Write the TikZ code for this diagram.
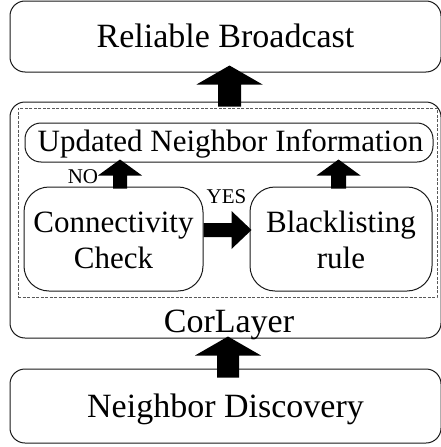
\documentclass[tikz,border=0pt]{standalone}
\usepackage{fontspec}
\setmainfont{Liberation Serif}
\usetikzlibrary{calc}
% block arrows as filled polygons: #1 tail, #2 tip, #3 shaft half width, #4 head half width, #5 head length
\newcommand\blkup[5]{\fill[black] let \p1=(#1), \p2=(#2) in
  (\x1-#3,\y1) -- (\x1+#3,\y1) -- (\x1+#3,\y2-#5) -- (\x1+#4,\y2-#5) -- (\x1,\y2)
  -- (\x1-#4,\y2-#5) -- (\x1-#3,\y2-#5) -- cycle;}
\newcommand\blkright[5]{\fill[black] let \p1=(#1), \p2=(#2) in
  (\x1,\y1+#3) -- (\x2-#5,\y1+#3) -- (\x2-#5,\y1+#4) -- (\x2,\y1)
  -- (\x2-#5,\y1-#4) -- (\x2-#5,\y1-#3) -- (\x1,\y1-#3) -- cycle;}
\begin{document}
\begin{tikzpicture}[x=1pt,y=-1pt,
  box/.style={draw=black!90, line width=1pt, inner sep=0pt, text depth=0pt},
  bigfont/.style={font=\fontsize{34}{40}\selectfont},
  midfont/.style={font=\fontsize{31}{36}\selectfont},
  smallfont/.style={font=\fontsize{21}{24}\selectfont},
]
\useasboundingbox (0,0) rectangle (440,447);

\node (rb) [box, bigfont, rounded corners=15pt, minimum width=431pt, minimum height=71pt, text height=21pt] at (225.5,36.5) {Reliable Broadcast};

\node (cor) [box, rounded corners=15pt, minimum width=431pt, minimum height=236pt] at (225.5,220) {};
\node (corlbl) [bigfont, anchor=base, inner sep=0pt] at (229,332) {CorLayer};

\node (frame) [draw=black!65, line width=0.9pt, dash pattern=on 3pt off 1.5pt, minimum width=419pt, minimum height=189pt, inner sep=0pt] at (227.5,202.5) {};

\node (uni) [box, midfont, rounded corners=16pt, minimum width=408pt, minimum height=39pt, text height=17pt] at (229,142.5) {\hspace*{3pt}Updated Neighbor Information};

\node (cc) [box, midfont, align=center, rounded corners=25pt, minimum width=179pt, minimum height=104pt, text height=58pt] at (113.5,239) {Connectivity\\Check};

\node (bl) [box, midfont, align=center, rounded corners=25pt, minimum width=182pt, minimum height=104pt, text height=58pt] at (341,239) {Blacklisting\\rule};

\node (nd) [box, bigfont, rounded corners=15pt, minimum width=431pt, minimum height=74pt, text height=22pt] at (225.5,406) {Neighbor Discovery};

\node (no) [smallfont, anchor=base, inner sep=0pt] at (83,183) {NO};
\node (yes) [smallfont, anchor=base, inner sep=0pt] at (226.5,203) {YES};

\blkup{$(cor.north)+(4,5)$}{$(rb.south)+(4,-7)$}{11.5pt}{33pt}{19pt}
\blkup{$(cc.north)+(6.5,2)$}{$(cc.north |- uni.south)+(6.5,-3)$}{7pt}{22pt}{16pt}
\blkup{$(bl.north)+(-2.5,2)$}{$(bl.north |- uni.south)+(-2.5,-3)$}{7.5pt}{22pt}{16pt}
\blkright{$(cc.east)+(0,-9)$}{$(bl.west)+(2,-9)$}{7pt}{19pt}{20pt}
\blkup{$(nd.north)+(2.5,9)$}{$(cor.south)+(2.5,-2)$}{11pt}{33pt}{19pt}
\end{tikzpicture}
\end{document}
